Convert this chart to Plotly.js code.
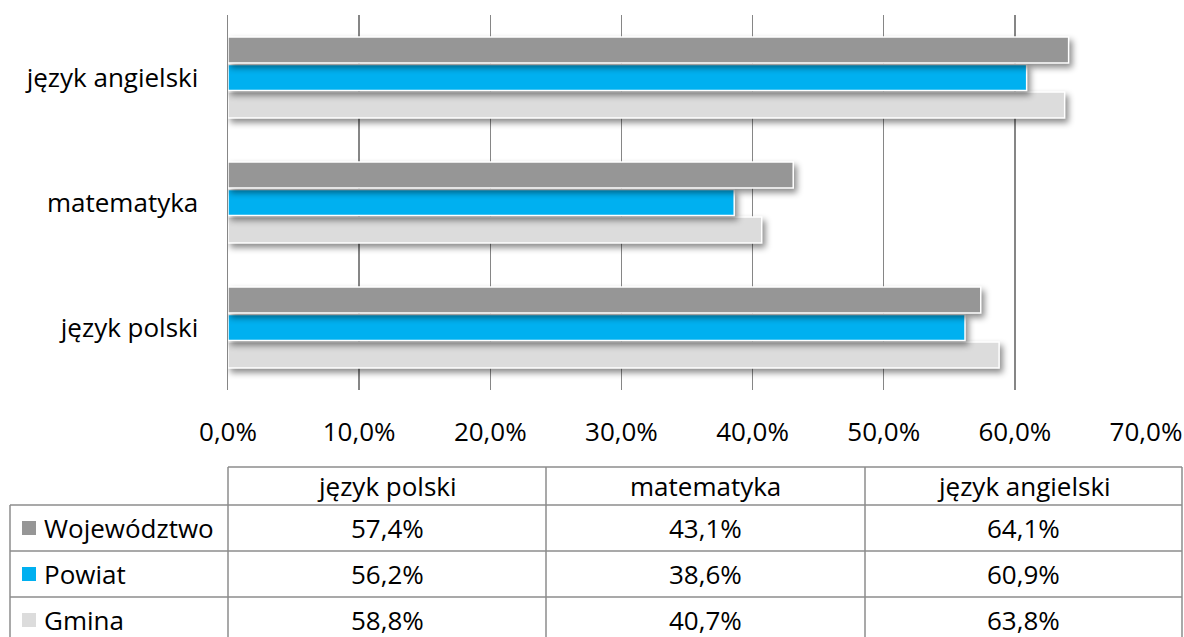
<!DOCTYPE html>
<html>
<head>
<meta charset="utf-8">
<script src="https://cdn.plot.ly/plotly-3.0.1.min.js"></script>
<style>
html,body{margin:0;padding:0;background:#fff;}
#chart{width:1184px;height:637px;}
.barlayer .point path{filter:drop-shadow(3px 4px 3px rgba(0,0,0,0.45));}
</style>
</head>
<body>
<div id="chart"></div>
<script>
const categories = ["język polski", "matematyka", "język angielski"];
const seriesNames = ["Województwo", "Powiat", "Gmina"];
const wojewodztwo = [57.4, 43.1, 64.1];
const powiat = [56.2, 38.6, 60.9];
const gmina = [58.8, 40.7, 63.8];
const tickValues = [0, 10, 20, 30, 40, 50, 60, 70];
const colors = {"Województwo": "#969696", "Powiat": "#00B0F0", "Gmina": "#DCDCDC"};

const W = 1184, H = 637;
const L = 228, R = 1146, T = 15, B = 390;
const FONT = "Open Sans, sans-serif";
const FS = 26;
const px = x => (x - L) / (R - L);
const py = y => (B - y) / (B - T);
const fmt = v => v.toFixed(1).replace('.', ',') + '%';

const seriesData = {"Województwo": wojewodztwo, "Powiat": powiat, "Gmina": gmina};
// Plotly draws the first trace at the bottom of each group
const traces = ["Gmina", "Powiat", "Województwo"].map(name => ({
  type: 'bar', orientation: 'h', name: name,
  y: categories, x: seriesData[name],
  marker: {color: colors[name], line: {color: '#ffffff', width: 1.5}},
  hoverinfo: 'skip'
}));

// Data table below the chart
const tableLeft = 10, tableRight = 1182, colStart = 228;
const colEdges = [228, 546, 865, 1182];
const rowEdges = [467, 505, 551, 597, 643];
const lineStyle = {color: '#8c8c8c', width: 1.5};
const shapes = [];
const annotations = [];
rowEdges.forEach((y, i) => {
  shapes.push({type: 'line', xref: 'paper', yref: 'paper',
    x0: px(i === 0 ? colStart : tableLeft), x1: px(tableRight), y0: py(y), y1: py(y), line: lineStyle});
});
colEdges.forEach(x => {
  shapes.push({type: 'line', xref: 'paper', yref: 'paper',
    x0: px(x), x1: px(x), y0: py(rowEdges[0]), y1: py(rowEdges[rowEdges.length - 1]), line: lineStyle});
});
shapes.push({type: 'line', xref: 'paper', yref: 'paper',
  x0: px(tableLeft), x1: px(tableLeft), y0: py(rowEdges[1]), y1: py(rowEdges[rowEdges.length - 1]), line: lineStyle});

categories.forEach((c, j) => {
  annotations.push({xref: 'paper', yref: 'paper', x: px((colEdges[j] + colEdges[j + 1]) / 2),
    y: py((rowEdges[0] + rowEdges[1]) / 2), text: c, showarrow: false,
    font: {family: FONT, size: FS, color: '#000'}, xanchor: 'center', yanchor: 'middle'});
});
seriesNames.forEach((s, i) => {
  const yc = (rowEdges[i + 1] + rowEdges[i + 2]) / 2;
  shapes.push({type: 'rect', xref: 'paper', yref: 'paper', x0: px(22), x1: px(36),
    y0: py(yc - 7), y1: py(yc + 7), fillcolor: colors[s], line: {width: 0}});
  annotations.push({xref: 'paper', yref: 'paper', x: px(42), y: py(yc), text: s, showarrow: false,
    font: {family: FONT, size: FS, color: '#000'}, xanchor: 'left', yanchor: 'middle'});
  seriesData[s].forEach((v, j) => {
    annotations.push({xref: 'paper', yref: 'paper', x: px((colEdges[j] + colEdges[j + 1]) / 2),
      y: py(yc), text: fmt(v), showarrow: false,
      font: {family: FONT, size: FS, color: '#000'}, xanchor: 'center', yanchor: 'middle'});
  });
});

const layout = {
  width: W, height: H,
  margin: {l: L, r: W - R, t: T, b: H - B, pad: 0},
  paper_bgcolor: '#ffffff', plot_bgcolor: '#ffffff',
  barmode: 'group', bargap: 0.34, bargroupgap: 0.05,
  showlegend: false,
  separators: ', ',
  font: {family: FONT, size: FS, color: '#000'},
  xaxis: {
    range: [0, 70], tickmode: 'array', tickvals: tickValues, ticktext: tickValues.map(fmt),
    showgrid: true, gridcolor: '#868686', gridwidth: 1.5, zeroline: false,
    showline: false, ticks: '', ticklabelstandoff: 24,
    tickfont: {family: FONT, size: FS, color: '#000'}, fixedrange: true
  },
  yaxis: {
    categoryorder: 'array', categoryarray: categories,
    showline: true, linecolor: '#868686', linewidth: 1.5, showgrid: false,
    ticks: '', ticklabelstandoff: 23,
    tickfont: {family: FONT, size: FS, color: '#000'}, fixedrange: true
  },
  shapes: shapes, annotations: annotations
};

Plotly.newPlot('chart', traces, layout, {displayModeBar: false, staticPlot: true});
</script>
</body>
</html>
